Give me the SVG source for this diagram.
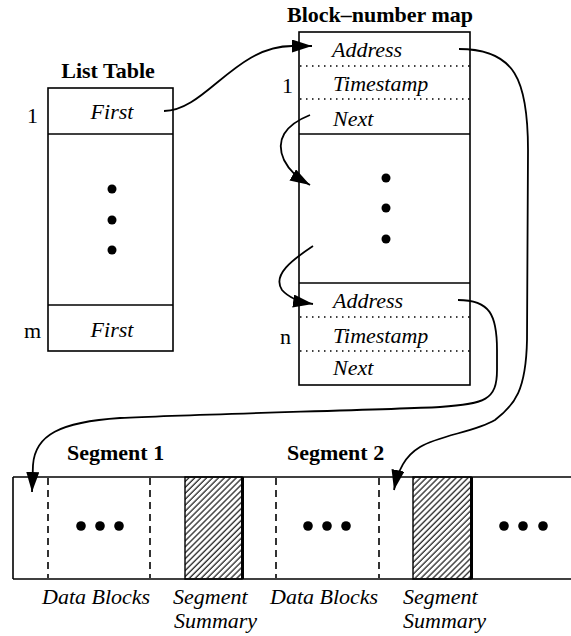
<svg xmlns="http://www.w3.org/2000/svg" width="571" height="636" viewBox="0 0 571 636">
<style>
text{font-family:"Liberation Serif","Times New Roman",serif;font-size:22px;fill:#000}
.b{font-weight:bold}
.i{font-style:italic}
.box{fill:none;stroke:#000;stroke-width:1.6}
.dot{stroke:#000;stroke-width:1.6;stroke-dasharray:1.5,4.5}
.dash{stroke:#000;stroke-width:1.6;stroke-dasharray:7,5}
.conn{fill:none;stroke:#000;stroke-width:1.8}
</style>
<defs>
<marker id="ah" markerUnits="userSpaceOnUse" markerWidth="22" markerHeight="14" refX="20" refY="6.5" orient="auto">
<path d="M0,0 L20,6.5 L0,13 z" fill="#000"/>
</marker>
<pattern id="hatch" patternUnits="userSpaceOnUse" width="4.2" height="4.2" patternTransform="rotate(45)">
<line x1="1" y1="0" x2="1" y2="4.2" stroke="#333" stroke-width="1.4"/>
</pattern>
</defs>

<g id="list-table">
<text class="b" x="108" y="78" text-anchor="middle">List Table</text>
<rect class="box" x="48" y="88" width="125" height="263"/>
<line class="box" x1="48" y1="134" x2="173" y2="134"/>
<line class="box" x1="48" y1="305" x2="173" y2="305"/>
<text class="i" x="112" y="119" text-anchor="middle">First</text>
<text class="i" x="112" y="337" text-anchor="middle">First</text>
<text x="27" y="123">1</text>
<text x="24" y="338">m</text>
<circle cx="112" cy="189" r="4.5"/>
<circle cx="112" cy="220" r="4.5"/>
<circle cx="112" cy="250" r="4.5"/>
</g>

<g id="block-map">
<text class="b" x="287" y="22">Block–number map</text>
<rect class="box" x="299" y="32" width="171" height="353"/>
<line class="dot" x1="300" y1="66" x2="470" y2="66"/>
<line class="dot" x1="300" y1="99" x2="470" y2="99"/>
<line class="box" x1="299" y1="134" x2="470" y2="134"/>
<line class="box" x1="299" y1="283" x2="470" y2="283"/>
<line class="dot" x1="300" y1="317" x2="470" y2="317"/>
<line class="dot" x1="300" y1="351" x2="470" y2="351"/>
<text class="i" x="332" y="57">Address</text>
<text class="i" x="333" y="91">Timestamp</text>
<text class="i" x="333" y="126">Next</text>
<text class="i" x="333" y="308">Address</text>
<text class="i" x="333" y="343">Timestamp</text>
<text class="i" x="333" y="375">Next</text>
<text x="282" y="93">1</text>
<text x="280" y="344">n</text>
<circle cx="386" cy="178" r="4.5"/>
<circle cx="386" cy="208" r="4.5"/>
<circle cx="386" cy="239" r="4.5"/>
</g>

<g id="segments">
<text class="b" x="67" y="460">Segment 1</text>
<text class="b" x="287" y="460">Segment 2</text>
<line class="box" x1="13" y1="477" x2="571" y2="477"/>
<line class="box" x1="13" y1="579" x2="571" y2="579"/>
<line class="box" x1="13" y1="477" x2="13" y2="579"/>
<line class="dash" x1="48" y1="478" x2="48" y2="578"/>
<line class="dash" x1="150" y1="478" x2="150" y2="578"/>
<line class="dash" x1="276" y1="478" x2="276" y2="578"/>
<line class="dash" x1="379" y1="478" x2="379" y2="578"/>
<rect x="185" y="477" width="57" height="102" fill="url(#hatch)" stroke="#000" stroke-width="1.4"/>
<line x1="242.5" y1="477" x2="242.5" y2="579" stroke="#000" stroke-width="3"/>
<rect x="413" y="477" width="58" height="102" fill="url(#hatch)" stroke="#000" stroke-width="1.4"/>
<line x1="471.5" y1="477" x2="471.5" y2="579" stroke="#000" stroke-width="3"/>
<circle cx="81" cy="526" r="4.8"/><circle cx="100" cy="526" r="4.8"/><circle cx="119" cy="526" r="4.8"/>
<circle cx="308" cy="526" r="4.8"/><circle cx="327" cy="526" r="4.8"/><circle cx="346" cy="526" r="4.8"/>
<circle cx="504" cy="526" r="4.8"/><circle cx="523" cy="526" r="4.8"/><circle cx="543" cy="526" r="4.8"/>
<text class="i" x="42" y="604">Data Blocks</text>
<text class="i" x="173" y="604">Segment</text>
<text class="i" x="174" y="628">Summary</text>
<text class="i" x="270" y="604">Data Blocks</text>
<text class="i" x="403" y="604">Segment</text>
<text class="i" x="403" y="628">Summary</text>
</g>

<g id="connectors">
<path class="conn" marker-end="url(#ah)" d="M164,111 C205,111 235,46 292,46 L312,46"/>
<path class="conn" marker-end="url(#ah)" d="M459,49 C515,49 528,80 528,150 L527,340 C526,390 515,405 495,420 C475,432 440,435 420,447 C405,456 398,470 394,490"/>
<path class="conn" marker-end="url(#ah)" d="M310,115 C285,125 275,140 284,160 C290,172 298,178 310,185"/>
<path class="conn" marker-end="url(#ah)" d="M313,246 C292,260 272,275 282,290 C289,298 300,302 313,304"/>
<path class="conn" marker-end="url(#ah)" d="M458,300 C490,300 497,315 497,350 L497,370 C497,400 485,404 440,407 C380,410 200,414 120,418 C60,422 35,435 33,465 L32,492"/>
</g>
</svg>
